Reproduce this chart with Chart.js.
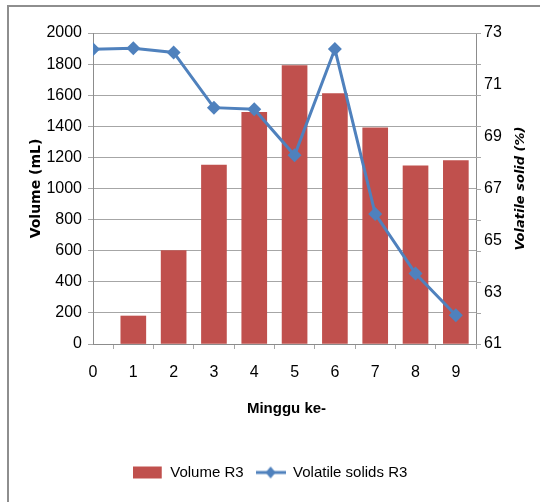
<!DOCTYPE html>
<html>
<head>
<meta charset="utf-8">
<script src="https://cdn.jsdelivr.net/npm/chart.js@4.4.0/dist/chart.umd.min.js"></script>
<style>
  html, body { margin: 0; padding: 0; background: #fff; }
  #wrap { position: relative; width: 540px; height: 502px; overflow: hidden; }
  #frame { position: absolute; left: 7px; top: 5px; width: 600px; height: 600px;
           border-left: 2px solid #8e8e8e; border-top: 2px solid #8e8e8e; }
  canvas { position: absolute; left: 0; top: 0; }
</style>
</head>
<body>
<div id="wrap">
  <div id="frame"></div>
  <canvas id="chart" width="540" height="502"></canvas>
</div>
<script>
// weeks (Minggu ke-)
const weeks = [0, 1, 2, 3, 4, 5, 6, 7, 8, 9];
// Volume R3 (mL)
const volumeR3 = [0, 180, 600, 1150, 1490, 1790, 1610, 1390, 1145, 1180];
// Volatile solids R3 (%)
const volatileR3 = [72.37, 72.41, 72.25, 70.12, 70.06, 68.28, 72.38, 66.02, 63.72, 62.11];

const barColor = '#c0504d';
const lineColor = '#4f81bd';
const sans = "'Liberation Sans', Arial, sans-serif";

// legend icons
function makeIcon(kind) {
  const c = document.createElement('canvas');
  c.width = 30; c.height = 14;
  const g = c.getContext('2d');
  if (kind === 'bar') {
    g.fillStyle = barColor;
    g.fillRect(0, 1, 29, 12);
  } else {
    g.strokeStyle = lineColor;
    g.lineWidth = 3;
    g.beginPath(); g.moveTo(0, 7); g.lineTo(30, 7); g.stroke();
    g.fillStyle = lineColor;
    g.beginPath(); g.moveTo(15, 1); g.lineTo(20, 7); g.lineTo(15, 13); g.lineTo(10, 7); g.closePath(); g.fill();
  }
  return c;
}
const barIcon = makeIcon('bar');
const lineIcon = makeIcon('line');

// axis titles and small right-axis ticks
const extras = {
  id: 'extras',
  afterDraw(chart) {
    const ctx = chart.ctx;
    const y = chart.scales.y;
    const ca = chart.chartArea;
    ctx.save();
    ctx.strokeStyle = '#a6a6a6';
    ctx.lineWidth = 1;
    y.ticks.forEach(t => {
      const py = Math.round(y.getPixelForValue(t.value)) + 0.5;
      ctx.beginPath(); ctx.moveTo(ca.right, py); ctx.lineTo(ca.right + 5, py); ctx.stroke();
    });
    ctx.fillStyle = '#000';
    ctx.textAlign = 'center';
    ctx.textBaseline = 'middle';
    const midY = (ca.top + ca.bottom) / 2;
    ctx.font = "bold 14px 'DejaVu Sans', sans-serif";
    ctx.save(); ctx.translate(36, midY); ctx.rotate(-Math.PI / 2);
    ctx.fillText('Volume (mL)', 0, 0); ctx.restore();
    ctx.font = "italic bold 13px 'DejaVu Sans', sans-serif";
    ctx.save(); ctx.translate(521, midY); ctx.rotate(-Math.PI / 2);
    ctx.fillText('Volatile solid (%)', 0, 0); ctx.restore();
    ctx.font = "bold 15px " + sans;
    ctx.fillText('Minggu ke-', (ca.left + ca.right) / 2 + 2, 409);
    ctx.restore();
  }
};

new Chart(document.getElementById('chart'), {
  data: {
    datasets: [
      {
        type: 'line',
        label: 'Volatile solids R3',
        data: weeks.map((w, i) => ({ x: w, y: volatileR3[i] })),
        yAxisID: 'y1',
        borderColor: lineColor,
        backgroundColor: lineColor,
        borderWidth: 3,
        pointStyle: 'rectRot',
        pointRadius: 7,
        pointBackgroundColor: lineColor,
        pointBorderWidth: 0,
        tension: 0,
        order: 0
      },
      {
        type: 'bar',
        label: 'Volume R3',
        data: weeks.map((w, i) => ({ x: w, y: volumeR3[i] })),
        yAxisID: 'y',
        // zero-height bar stays invisible
        backgroundColor: c => (c.raw && c.raw.y === 0) ? 'rgba(0,0,0,0)' : barColor,
        borderWidth: 0,
        barThickness: 25,
        order: 1
      }
    ]
  },
  options: {
    responsive: false,
    animation: false,
    layout: { padding: { top: 33, bottom: 12, left: 0, right: 0 } },
    plugins: {
      tooltip: { enabled: false },
      legend: {
        position: 'bottom',
        labels: {
          usePointStyle: true,
          pointStyleWidth: 30,
          boxHeight: 14,
          padding: 12,
          color: '#000',
          font: { family: sans, size: 15 },
          generateLabels() {
            return [
              { text: 'Volume R3', pointStyle: barIcon, fillStyle: barColor, strokeStyle: barColor, lineWidth: 0, datasetIndex: 1 },
              { text: 'Volatile solids R3', pointStyle: lineIcon, fillStyle: lineColor, strokeStyle: lineColor, lineWidth: 0, datasetIndex: 0 }
            ];
          }
        }
      }
    },
    scales: {
      x: {
        type: 'linear',
        min: 0,
        max: 9.5,
        offset: false,
        afterBuildTicks(scale) { scale.ticks = weeks.map(v => ({ value: v })); },
        afterFit(scale) { scale.height = 109; },
        grid: { drawOnChartArea: false, drawTicks: true, tickLength: 5, color: '#a6a6a6' },
        border: { color: '#8c8c8c' },
        ticks: { padding: 14, color: '#000', font: { family: sans, size: 16 }, maxRotation: 0 }
      },
      y: {
        position: 'left',
        min: 0,
        max: 2000,
        ticks: { stepSize: 200, padding: 6, color: '#000', font: { family: sans, size: 16 },
                 callback: v => String(v) },
        afterFit(scale) { scale.width = 93; },
        grid: { color: '#a6a6a6', tickLength: 5 },
        border: { color: '#8c8c8c' }
      },
      y1: {
        position: 'right',
        min: 61,
        max: 73,
        ticks: { stepSize: 2, padding: 8, color: '#000', font: { family: sans, size: 16 } },
        afterFit(scale) { scale.width = 64; },
        grid: { drawOnChartArea: false, drawTicks: false },
        border: { color: '#8c8c8c' }
      }
    }
  },
  plugins: [extras]
});
</script>
</body>
</html>
